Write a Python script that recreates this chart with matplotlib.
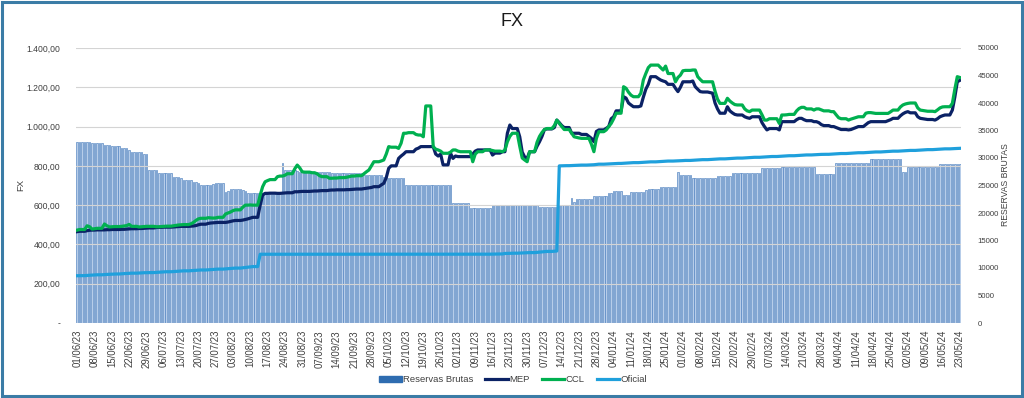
import numpy as np
import pandas as pd
import matplotlib
matplotlib.use('Agg')
import matplotlib.pyplot as plt
import matplotlib.dates as mdates
from matplotlib.ticker import FuncFormatter, MultipleLocator
from matplotlib.patches import Rectangle, Patch
from matplotlib.lines import Line2D

plt.rcParams['font.family'] = ['Liberation Sans', 'DejaVu Sans']

# calendar days 01/06/23 .. 23/05/24, one row per week (Mon..Sun),
# weekends carry the Friday value as in the source sheet
dates = pd.date_range('2023-06-01', '2024-05-23', freq='D')

reservas = [
    32960, 32960, 32960, 32960,
    32960, 32900, 32800, 32670, 32670, 32670, 32670,
    32360, 32360, 32300, 32240, 32240, 32240, 32240,
    31760, 31760, 31760, 31500, 31140, 31140, 31140,
    31140, 31000, 30720, 30720, 27810, 27810, 27810,
    27810, 27330, 27330, 27330, 27330, 27330, 27330,
    26480, 26480, 26480, 26300, 26000, 26000, 26000,
    26000, 25690, 25690, 25400, 25090, 25090, 25090,
    25090, 25090, 25200, 25400, 25400, 25400, 25400,
    23870, 24000, 24310, 24310, 24310, 24310, 24310,
    24200, 24000, 23690, 23690, 23690, 23690, 23690,
    23580, 23580, 23450, 23450, 23450, 23450, 23450,
    23450, 23450, 29030, 27810, 27810, 27810, 27810,
    27810, 27700, 27510, 27510, 27510, 27510, 27510,
    27510, 27510, 27510, 27510, 27510, 27510, 27510,
    27400, 27300, 27210, 27210, 27210, 27210, 27210,
    27210, 27210, 27210, 27210, 27210, 27210, 27210,
    26900, 26900, 26900, 26900, 26900, 26900, 26900,
    26900, 26600, 26300, 26300, 26300, 26300, 26300,
    26300, 26300, 26300, 25090, 25090, 25090, 25090,
    25090, 25090, 25090, 25090, 25090, 25090, 25090,
    25090, 25090, 25090, 25090, 25090, 25090, 25090,
    25090, 21760, 21760, 21760, 21760, 21760, 21760,
    21760, 20850, 20850, 20850, 20850, 20850, 20850,
    20850, 20850, 20850, 21450, 21450, 21450, 21450,
    21450, 21450, 21450, 21450, 21450, 21450, 21450,
    21450, 21450, 21450, 21450, 21450, 21450, 21450,
    21450, 21150, 21150, 21150, 21150, 21150, 21150,
    21150, 21150, 21450, 21450, 21450, 21450, 21450,
    22670, 22050, 22540, 22540, 22540, 22540, 22540,
    22540, 22540, 23090, 23090, 23090, 23090, 23090,
    23090, 23580, 23580, 24050, 24050, 24050, 24050,
    23270, 23270, 23270, 23870, 23870, 23870, 23870,
    23870, 23870, 24200, 24360, 24360, 24360, 24360,
    24360, 24780, 24780, 24780, 24780, 24780, 24780,
    24780, 27510, 26900, 26900, 26900, 26900, 26900,
    26420, 26420, 26420, 26420, 26420, 26420, 26420,
    26420, 26420, 26420, 26720, 26720, 26720, 26720,
    26720, 26720, 27330, 27330, 27330, 27330, 27330,
    27330, 27330, 27330, 27200, 27200, 27200, 27200,
    28120, 28120, 28120, 28120, 28120, 28120, 28120,
    28120, 28420, 28420, 28300, 28300, 28300, 28300,
    28300, 28300, 28300, 28300, 28300, 28300, 28300,
    28300, 27030, 27030, 27030, 27030, 27030, 27030,
    27030, 27030, 29030, 29030, 29030, 29030, 29030,
    29030, 29030, 29030, 29030, 29030, 29030, 29030,
    29030, 29030, 29760, 29760, 29760, 29760, 29760,
    29760, 29760, 29760, 29760, 29760, 29760, 29760,
    29760, 27510, 27510, 28300, 28300, 28300, 28300,
    28300, 28300, 28300, 28300, 28300, 28300, 28300,
    28300, 28300, 28850, 28850, 28850, 28850, 28850,
    28850, 28850, 28850, 28850,
]

mep = [
    465, 467, 467, 467,
    470, 472, 473, 473, 474, 474, 474,
    474, 475, 475, 476, 476, 476, 476,
    477, 477, 478, 479, 480, 480, 480,
    481, 481, 482, 483, 484, 484, 484,
    486, 487, 487, 488, 488, 488, 488,
    489, 490, 491, 492, 492, 492, 492,
    493, 494, 496, 500, 503, 503, 503,
    507, 509, 510, 511, 512, 512, 512,
    512, 514, 517, 520, 522, 522, 522,
    524, 527, 530, 534, 538, 538, 538,
    600, 652, 660, 660, 661, 661, 661,
    660, 660, 661, 662, 663, 663, 663,
    668, 668, 669, 670, 670, 670, 670,
    671, 672, 672, 673, 674, 674, 674,
    676, 677, 677, 678, 678, 678, 678,
    679, 679, 680, 681, 682, 682, 682,
    684, 686, 688, 690, 694, 694, 694,
    703, 711, 740, 788, 800, 800, 800,
    838, 850, 860, 872, 872, 872, 872,
    885, 890, 898, 898, 898, 898, 898,
    898, 860, 850, 860, 805, 805, 805,
    864, 838, 850, 847, 847, 847, 847,
    847, 847, 860, 875, 881, 881, 881,
    881, 881, 881, 855, 865, 865, 865,
    872, 872, 966, 1008, 990, 990, 990,
    948, 870, 845, 838, 872, 872, 872,
    900, 923, 950, 985, 988, 988, 988,
    995, 1033, 1020, 1005, 995, 995, 995,
    966, 966, 966, 966, 960, 960, 960,
    950, 940, 923, 975, 983, 983, 983,
    991, 1000, 1040, 1050, 1080, 1080, 1080,
    1152, 1145, 1120, 1110, 1101, 1101, 1101,
    1105, 1150, 1190, 1215, 1254, 1254, 1254,
    1245, 1237, 1232, 1228, 1215, 1215, 1215,
    1195, 1178, 1200, 1228, 1228, 1228, 1228,
    1232, 1203, 1190, 1178, 1176, 1176, 1176,
    1173, 1170, 1120, 1090, 1068, 1068, 1068,
    1101, 1080, 1070, 1062, 1059, 1059, 1059,
    1050, 1045, 1042, 1050, 1050, 1050, 1050,
    1020, 1000, 983, 990, 990, 990, 990,
    983, 1025, 1025, 1025, 1025, 1025, 1025,
    1035, 1042, 1042, 1035, 1030, 1030, 1030,
    1025, 1025, 1020, 1010, 1005, 1005, 1005,
    1000, 1000, 995, 990, 985, 985, 985,
    983, 985, 990, 995, 1000, 1000, 1000,
    1010, 1020, 1025, 1025, 1025, 1025, 1025,
    1025, 1025, 1030, 1035, 1042, 1042, 1042,
    1055, 1065, 1072, 1076, 1070, 1070, 1070,
    1050, 1042, 1040, 1038, 1036, 1036, 1036,
    1033, 1040, 1050, 1055, 1059, 1059, 1059,
    1084, 1150, 1228, 1235,
]

ccl = [
    473, 476, 476, 476,
    495, 490, 478, 480, 482, 482, 482,
    504, 495, 489, 490, 491, 491, 491,
    492, 494, 496, 502, 492, 492, 492,
    489, 490, 491, 492, 492, 492, 492,
    490, 490, 491, 492, 493, 493, 493,
    495, 497, 499, 500, 501, 501, 501,
    505, 512, 522, 530, 533, 533, 533,
    536, 535, 534, 535, 538, 538, 538,
    555, 560, 565, 572, 576, 576, 576,
    590, 600, 600, 601, 600, 600, 600,
    650, 694, 719, 725, 730, 730, 730,
    745, 748, 748, 752, 760, 760, 760,
    785, 804, 790, 770, 768, 768, 768,
    765, 765, 760, 750, 745, 745, 745,
    737, 737, 738, 738, 740, 740, 740,
    742, 745, 748, 748, 750, 750, 750,
    760, 770, 779, 800, 821, 821, 821,
    825, 830, 860, 898, 895, 895, 895,
    889, 915, 966, 966, 969, 969, 969,
    960, 957, 957, 948, 1105, 1105, 1105,
    898, 885, 881, 875, 864, 864, 864,
    870, 881, 881, 875, 872, 872, 872,
    872, 872, 821, 860, 872, 872, 872,
    881, 881, 881, 878, 875, 875, 875,
    872, 880, 923, 950, 966, 966, 966,
    900, 840, 830, 821, 872, 872, 872,
    920, 950, 970, 985, 990, 990, 990,
    1005, 1033, 1016, 1000, 985, 985, 985,
    966, 948, 945, 942, 940, 940, 940,
    940, 910, 872, 940, 974, 974, 974,
    983, 1000, 1016, 1040, 1068, 1068, 1068,
    1203, 1195, 1175, 1160, 1152, 1152, 1152,
    1170, 1237, 1270, 1300, 1313, 1313, 1313,
    1313, 1300, 1288, 1308, 1270, 1270, 1270,
    1228, 1250, 1262, 1284, 1286, 1286, 1286,
    1288, 1288, 1254, 1240, 1228, 1228, 1228,
    1228, 1228, 1180, 1140, 1118, 1118, 1118,
    1144, 1130, 1120, 1112, 1110, 1110, 1110,
    1090, 1080, 1076, 1084, 1084, 1084, 1084,
    1060, 1033, 1033, 1040, 1040, 1040, 1040,
    1016, 1059, 1059, 1060, 1062, 1062, 1062,
    1080, 1092, 1098, 1098, 1090, 1090, 1090,
    1084, 1090, 1090, 1085, 1080, 1080, 1080,
    1076, 1076, 1060, 1045, 1040, 1040, 1040,
    1033, 1038, 1042, 1046, 1050, 1050, 1050,
    1068, 1071, 1071, 1069, 1067, 1067, 1067,
    1067, 1067, 1067, 1075, 1084, 1084, 1084,
    1100, 1110, 1115, 1118, 1120, 1120, 1120,
    1095, 1084, 1082, 1080, 1078, 1078, 1078,
    1076, 1085, 1095, 1100, 1101, 1101, 1101,
    1118, 1190, 1254, 1250,
]

oficial = [
    240.6, 241.1, 241.1, 241.1,
    242.3, 243.0, 243.8, 244.6, 245.4, 245.4, 245.4,
    246.5, 247.3, 248.0, 248.8, 249.6, 249.6, 249.6,
    250.7, 251.4, 252.2, 252.9, 253.7, 253.7, 253.7,
    254.5, 255.2, 255.9, 256.3, 256.7, 256.7, 256.7,
    257.6, 258.4, 259.3, 260.2, 261.0, 261.0, 261.0,
    262.0, 262.9, 263.8, 264.6, 265.5, 265.5, 265.5,
    266.4, 267.3, 268.1, 269.0, 269.9, 269.9, 269.9,
    270.8, 271.7, 272.6, 273.5, 274.4, 274.4, 274.4,
    275.5, 276.2, 277.4, 278.5, 279.6, 279.6, 279.6,
    281.0, 282.5, 284.0, 285.6, 287.3, 287.3, 287.3,
    350, 350, 350, 350, 350, 350, 350,
    350, 350, 350, 350, 350, 350, 350,
    350, 350, 350, 350, 350, 350, 350,
    350, 350, 350, 350, 350, 350, 350,
    350, 350, 350, 350, 350, 350, 350,
    350, 350, 350, 350, 350, 350, 350,
    350, 350, 350, 350, 350, 350, 350,
    350, 350, 350, 350, 350, 350, 350,
    350, 350, 350, 350, 350, 350, 350,
    350, 350, 350, 350, 350, 350, 350,
    350, 350, 350, 350, 350, 350, 350,
    350, 350, 350, 350, 350, 350, 350,
    350, 350, 350, 350, 350, 350, 350,
    350.0, 350.0, 350.4, 350.8, 351.2, 351.2, 351.2,
    351.6, 353.9, 354.4, 354.9, 355.4, 355.4, 355.4,
    356.0, 356.6, 357.2, 357.8, 358.4, 358.4, 358.4,
    359.6, 360.8, 362.0, 363.2, 364.4, 364.4, 364.4,
    365.5, 366.5, 799.9, 800.4, 801.0, 801.0, 801.0,
    801.6, 802.2, 802.7, 803.3, 803.9, 803.9, 803.9,
    804.5, 805.1, 805.7, 807.0, 808.5, 808.5, 808.5,
    809.2, 810.0, 810.8, 811.6, 812.4, 812.4, 812.4,
    813.2, 814.0, 814.8, 815.6, 816.4, 816.4, 816.4,
    817.2, 818.0, 818.8, 819.6, 820.4, 820.4, 820.4,
    821.2, 822.0, 822.8, 823.6, 824.4, 824.4, 824.4,
    825.2, 825.6, 826.0, 826.8, 827.6, 827.6, 827.6,
    828.4, 829.2, 830.0, 830.8, 831.6, 831.6, 831.6,
    832.4, 833.2, 834.0, 834.8, 835.6, 835.6, 835.6,
    836.4, 837.2, 838.0, 838.8, 839.6, 839.6, 839.6,
    840.4, 841.2, 842.0, 842.8, 843.6, 843.6, 843.6,
    844.4, 845.2, 846.0, 846.8, 847.6, 847.6, 847.6,
    848.4, 849.2, 850.0, 850.8, 851.6, 851.6, 851.6,
    852.4, 853.2, 854.0, 854.8, 855.6, 855.6, 855.6,
    856.4, 857.2, 858.0, 858.4, 858.8, 858.8, 858.8,
    859.6, 860.4, 861.2, 862.0, 862.8, 862.8, 862.8,
    863.6, 864.4, 865.2, 866.0, 866.8, 866.8, 866.8,
    867.6, 868.4, 869.2, 870.0, 870.8, 870.8, 870.8,
    871.6, 872.4, 873.2, 874.0, 874.8, 874.8, 874.8,
    875.6, 876.4, 877.0, 877.8, 878.6, 878.6, 878.6,
    879.4, 880.2, 881.0, 881.8, 882.6, 882.6, 882.6,
    883.4, 884.2, 885.0, 885.8, 886.6, 886.6, 886.6,
    887.4, 888.0, 888.6, 889.2,
]

tick_dates = pd.date_range('2023-06-01', '2024-05-23', freq='7D')

c_bar = '#b7cde9'
c_bar_edge = '#4e81bf'
c_mep = '#0b2265'
c_ccl = '#00b050'
c_of = '#1fa0dc'

fig = plt.figure(figsize=(10.24, 3.98), dpi=100)
ax2 = fig.add_axes([76 / 1024, 75 / 398, 885 / 1024, 275 / 398])
ax = ax2.twinx()
ax2.yaxis.tick_right()
ax.yaxis.tick_left()

x = mdates.date2num(dates)
ax2.bar(x, reservas, width=0.62, color=c_bar, edgecolor=c_bar_edge, linewidth=0.45, zorder=2)
ax2.set_ylim(0, 50000)
ax2.yaxis.set_major_locator(MultipleLocator(5000))

ax.plot(x, mep, color=c_mep, lw=2.3)
ax.plot(x, ccl, color=c_ccl, lw=2.3)
ax.plot(x, oficial, color=c_of, lw=2.3)
ax.set_ylim(0, 1400)
ax.yaxis.set_major_locator(MultipleLocator(200))

def fx_fmt(v, pos):
    if v == 0:
        return '-'
    s = '{:,.2f}'.format(v)
    return s.replace(',', 'X').replace('.', ',').replace('X', '.')

ax.yaxis.set_major_formatter(FuncFormatter(fx_fmt))

# FX gridlines (left axis), drawn over the bars
for v in range(200, 1401, 200):
    ax2.axhline(v / 1400 * 50000, color='#d4d4d4', lw=0.8, zorder=3)
ax2.axhline(0, color='#d4d4d4', lw=0.8, zorder=3)

ax2.set_xlim(x[0] - 0.5, x[-1] + 0.5)
ax2.set_xticks(mdates.date2num(tick_dates))
ax2.set_xticklabels([d.strftime('%d/%m/%y') for d in tick_dates], rotation=90, fontsize=6.9, color='#404040')

for a in (ax, ax2):
    for s in a.spines.values():
        s.set_visible(False)
    a.tick_params(length=0)
ax.tick_params(axis='y', labelsize=6.2, labelcolor='#404040', pad=11)
ax2.tick_params(axis='y', labelsize=5.6, labelcolor='#404040', pad=12)
ax2.tick_params(axis='x', pad=5)

ax.set_zorder(ax2.get_zorder() + 1)
ax.patch.set_visible(False)

fig.text(21 / 1024, 1 - 185 / 398, 'FX', rotation=90, ha='center', va='center', fontsize=6.8, color='#404040')
fig.text(1005 / 1024, 1 - 185 / 398, 'RESERVAS BRUTAS', rotation=90, ha='center', va='center', fontsize=6.2, color='#404040')
fig.text(0.5, 1 - 22 / 398, 'FX', ha='center', va='center', fontsize=13, color='#1a1a1a')

handles = [Patch(color='#2e6cb0'),
           Line2D([], [], color=c_mep, lw=2.3),
           Line2D([], [], color=c_ccl, lw=2.3),
           Line2D([], [], color=c_of, lw=2.3)]
labels = ['Reservas Brutas', 'MEP', 'CCL', 'Oficial']
fig.legend(handles, labels, loc='center', bbox_to_anchor=(513 / 1024, 1 - 380 / 398), ncol=4,
           frameon=False, fontsize=6.8, handlelength=2.4, handleheight=0.5, handletextpad=0.1,
           columnspacing=1.3, labelcolor='#404040')

fig.patches.append(Rectangle((0.002, 0.004), 0.996, 0.992, transform=fig.transFigure, fill=False,
                             edgecolor='#3b7ca6', lw=2.2))

fig.savefig('out.png', dpi=100)
